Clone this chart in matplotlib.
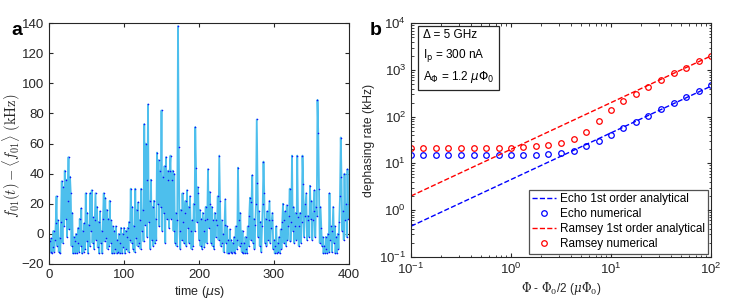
import numpy as np
import matplotlib
matplotlib.use('Agg')
from matplotlib import pyplot as plt

plt.rcParams['font.family'] = ['Liberation Sans', 'DejaVu Sans']
plt.rcParams['font.size'] = 8
plt.rcParams['axes.edgecolor'] = '#262626'
plt.rcParams['xtick.color'] = '#262626'
plt.rcParams['ytick.color'] = '#262626'

# Panel a: frequency fluctuation trace, one value per microsecond (kHz)
time_us = np.arange(0, 401)
freq_dev = [
    -13, -5, -12, -3, -13, -9, 2, -12, -4, 7,
    25, -8, 9, -12, -3, -13, 8, 35, -6, 31,
    5, 42, 10, 36, -2, 22, 51, 3, 38, 27,
    -8, 14, -13, -2, -13, -5, 0, -13, -6, 4,
    -12, 10, -8, 17, -13, 2, -12, 7, -10, 27,
    -5, 14, -13, 6, -8, 27, 2, 29, -6, 11,
    -10, 9, 27, -4, 18, -9, 8, -13, 15, -6,
    2, -13, 10, 27, -5, 24, -3, 16, -10, 10,
    -8, 22, -6, 9, -13, 5, -13, 2, -10, 5,
    -13, -4, -12, 0, -13, -6, 4, -13, 0, -9,
    4, -13, 2, -10, -2, 4, -12, 8, -4, 30,
    -6, 18, -10, 5, -12, 30, -3, 16, -8, 21,
    -6, 9, -10, 30, 2, 16, -5, 73, 6, 60,
    36, -2, 86, 8, 22, -10, 36, -4, 18, -8,
    22, -6, 10, -4, 54, 20, 49, 5, 42, 18,
    82, 2, 38, 14, 45, -6, 51, 10, 36, 42,
    4, 42, 52, 10, 36, 42, 2, 40, -6, 14,
    -8, 9, 138, 58, 2, -10, 16, -4, 27, 8,
    -6, 14, 22, -8, 29, 4, 18, -6, 25, 2,
    -10, 9, -8, 20, 2, 71, 44, 8, 31, 27,
    -4, 16, -8, 10, -10, 14, 2, -9, 9, 18,
    -6, 10, 43, 4, 28, 20, -6, 18, -8, 9,
    -10, 14, -2, 9, 6, 25, -4, 52, 22, -8,
    9, -6, 0, -12, 6, 23, -6, 5, -13, -4,
    -13, 3, -12, -4, -13, -6, -12, -2, -13, 5,
    -10, -4, 44, 9, -8, 14, -6, -12, 2, -13,
    -6, -13, -2, -10, -13, 5, -8, 12, 24, -4,
    21, 39, -6, 10, -10, 6, 20, 76, 34, -2,
    15, -8, 8, -12, 5, 20, 48, 27, -6, 10,
    -8, 15, -4, 9, 22, -6, 4, 9, 14, -10,
    -4, -13, -8, 5, -13, -6, -12, -2, -13, 3,
    -10, 8, 20, -6, 9, 15, -8, 19, -4, 5,
    12, 30, -5, 8, 52, 2, 18, -6, 5, 14,
    -4, 52, 11, -8, 5, 14, -6, 8, 52, 33,
    -2, 12, 20, 27, -4, 12, 9, -2, 32, 10,
    22, -4, 9, 15, 29, -2, 18, 12, 89, 67,
    30, -6, 18, 4, -8, -2, -13, -8, -13, -2,
    -10, -13, 0, -12, 27, -4, 5, -12, 2, 18,
    -6, 5, -13, -2, -13, 0, -10, 8, 25, 64,
    38, 2, 15, -4, 40, 9, 20, -2, 43, 10,
    20,
]

# Panel b: dephasing rates vs flux detuning (kHz)
flux = [0.1, 0.133, 0.178, 0.237, 0.316, 0.422, 0.562, 0.75, 1.0, 1.33,
        1.78, 2.37, 3.16, 4.22, 5.62, 7.5, 10, 13.3, 17.8, 23.7,
        31.6, 42.2, 56.2, 75, 100]
echo_num = [15.1, 15.1, 15.1, 15.1, 15.1, 15.1, 15.1, 15.1, 15.1, 15.2,
            15.3, 15.6, 16.9, 18.7, 23.5, 30, 40, 58, 78, 105,
            146, 193, 259, 353, 470]
ramsey_num = [21.5, 21.5, 21.5, 21.5, 21.5, 21.5, 21.5, 21.5, 21.7, 22.4,
              23.2, 24.3, 26.8, 32.6, 47.6, 82, 139, 216, 307, 440,
              610, 850, 1120, 1530, 2040]
flux_line = [0.1, 100]
echo_analytic = [0.45, 450]
ramsey_analytic = [2.0, 2000]

fig = plt.figure(figsize=(7.47, 3.0), dpi=100)

# ---- panel a ----
ax1 = fig.add_axes([0.0656, 0.12, 0.4016, 0.803])
ax1.plot(time_us, freq_dev, color=(0.30, 0.75, 0.93), lw=1.3)
ax1.plot(time_us, freq_dev, '.', color='#1010ff', ms=2.3, mew=0)
ax1.set_xlim(0, 400)
ax1.set_ylim(-20, 140)
ax1.set_xticks([0, 100, 200, 300, 400])
ax1.set_yticks(np.arange(-20, 141, 20))
ax1.tick_params(direction='in', top=True, right=True, length=3, labelsize=9.5)
ax1.set_xlabel(r'time ($\mu$s)', fontsize=9, color='#262626', labelpad=2,
               math_fontfamily='dejavusans')
ax1.set_ylabel(r'$f_{01}(t) - \langle f_{01}\rangle\ (\mathrm{kHz})$', fontsize=10.5,
               color='#262626', math_fontfamily='cm')
ax1.yaxis.set_label_coords(-0.087, 0.45)
fig.text(0.015, 0.883, 'a', fontsize=14, fontweight='bold', va='baseline')

# ---- panel b ----
ax2 = fig.add_axes([0.5502, 0.1443, 0.4016, 0.778])
ax2.loglog(flux_line, echo_analytic, '--', color='#0000ff', lw=1.0,
           label='Echo 1st order analytical')
ax2.loglog(flux, echo_num, 'o', mfc='none', mec='#0000ff', ms=4, mew=0.9,
           label='Echo numerical')
ax2.loglog(flux_line, ramsey_analytic, '--', color='#ff0000', lw=1.0,
           label='Ramsey 1st order analytical')
ax2.loglog(flux, ramsey_num, 'o', mfc='none', mec='#ff0000', ms=4, mew=0.9,
           label='Ramsey numerical')
ax2.set_xlim(0.1, 100)
ax2.set_ylim(0.1, 1e4)
ax2.tick_params(which='both', direction='in', top=True, right=True, labelsize=9.5)
ax2.tick_params(which='major', length=3)
ax2.tick_params(which='minor', length=1.8)
ax2.set_xlabel(r'$\Phi$ - $\Phi_0$/2 ($\mu\Phi_0$)', fontsize=8.5, color='#262626',
               labelpad=2, math_fontfamily='dejavuserif')
ax2.set_ylabel('dephasing rate (kHz)', fontsize=8.7, color='#262626', labelpad=3)
leg = ax2.legend(loc='lower right', fontsize=8.5, frameon=True, fancybox=False,
                 handlelength=2.0, handletextpad=0.3, borderaxespad=0.25,
                 labelspacing=0.25, borderpad=0.3)
leg.get_frame().set_edgecolor('#262626')
leg.get_frame().set_linewidth(0.9)
ax2.text(0.04, 0.975, 'Δ = 5 GHz\nI$_\\mathrm{p}$ = 300 nA\nA$_\\Phi$ = 1.2 $\\mu\\Phi_0$',
         transform=ax2.transAxes, va='top', ha='left', fontsize=8.5, linespacing=1.5,
         math_fontfamily='dejavusans',
         bbox=dict(boxstyle='square,pad=0.4', fc='white', ec='#262626', lw=0.9))
fig.text(0.495, 0.883, 'b', fontsize=14, fontweight='bold', va='baseline')

fig.savefig('out.png', dpi=100)
